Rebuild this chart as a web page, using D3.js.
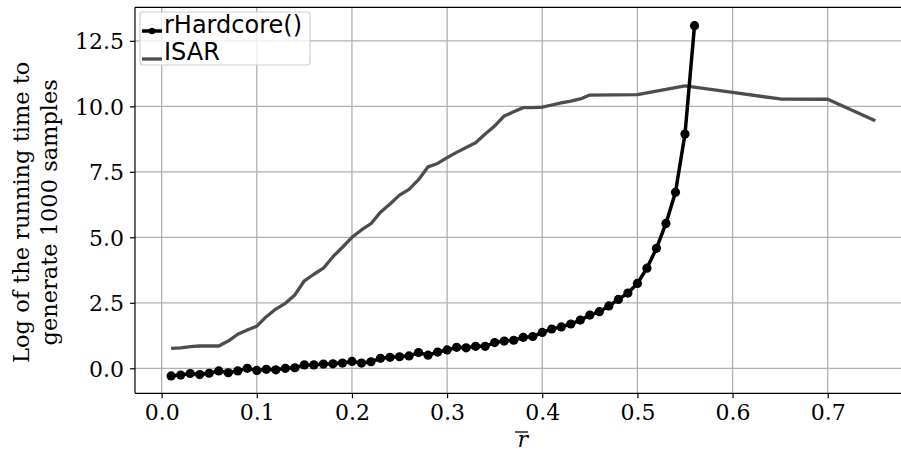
<!DOCTYPE html>
<html>
<head>
<meta charset="utf-8">
<script src="https://cdn.jsdelivr.net/npm/d3@7"></script>
<style>
  body { margin: 0; background: #fff; }
  .tick text { font-family: "DejaVu Serif", serif; font-size: 22px; fill: #000; }
</style>
</head>
<body>
<svg width="901" height="451"></svg>
<script>
// rHardcore(): r = 0.01 .. 0.56
const hardX = d3.range(1, 57).map(i => i / 100);
const hardY = [-0.29, -0.26, -0.2, -0.24, -0.19, -0.1, -0.17, -0.1, 0.0, -0.08,
  -0.04, -0.06, 0.0, 0.02, 0.13, 0.13, 0.16, 0.17, 0.2, 0.26,
  0.2, 0.25, 0.38, 0.42, 0.44, 0.47, 0.6, 0.5, 0.62, 0.7,
  0.8, 0.78, 0.84, 0.84, 0.98, 1.04, 1.07, 1.18, 1.21, 1.37,
  1.5, 1.58, 1.69, 1.84, 2.03, 2.16, 2.38, 2.63, 2.87, 3.24,
  3.82, 4.58, 5.53, 6.72, 8.94, 13.08];

// ISAR
const isarX = d3.range(1, 46).map(i => i / 100).concat([0.5, 0.55, 0.6, 0.65, 0.7, 0.75]);
const isarY = [0.76, 0.78, 0.83, 0.85, 0.85, 0.85, 1.04, 1.3, 1.46, 1.61,
  1.97, 2.26, 2.48, 2.8, 3.34, 3.59, 3.82, 4.26, 4.62, 5.0,
  5.28, 5.52, 5.96, 6.27, 6.61, 6.83, 7.2, 7.69, 7.82, 8.04,
  8.24, 8.43, 8.61, 8.94, 9.25, 9.63, 9.79, 9.95, 9.95, 9.97,
  10.05, 10.13, 10.2, 10.28, 10.43,
  10.45, 10.78, 10.53, 10.28, 10.27, 9.45];

const xTicks = [0, 0.1, 0.2, 0.3, 0.4, 0.5, 0.6, 0.7];
const yTicks = [0, 2.5, 5, 7.5, 10, 12.5];

const svg = d3.select("svg");
const pLeft = 135, pRight = 910.5, pTop = 7.3, pBottom = 393.3;

const x = d3.scaleLinear().domain([-0.028, 0.787]).range([pLeft, pRight]);
const y = d3.scaleLinear().domain([-0.955, 13.78]).range([pBottom, pTop]);

// grid
svg.append("g").selectAll("line").data(xTicks).join("line")
    .attr("x1", d => x(d)).attr("x2", d => x(d))
    .attr("y1", pTop).attr("y2", pBottom)
    .attr("stroke", "#b0b0b0").attr("stroke-width", 1.3);
svg.append("g").selectAll("line").data(yTicks).join("line")
    .attr("x1", pLeft).attr("x2", pRight)
    .attr("y1", d => y(d)).attr("y2", d => y(d))
    .attr("stroke", "#b0b0b0").attr("stroke-width", 1.3);

// axes
const gx = svg.append("g")
    .attr("transform", "translate(0," + pBottom + ")")
    .call(d3.axisBottom(x).tickValues(xTicks).tickFormat(d3.format(".1f")).tickSize(5).tickPadding(6));
const gy = svg.append("g")
    .attr("transform", "translate(" + pLeft + ",0)")
    .call(d3.axisLeft(y).tickValues(yTicks).tickFormat(d3.format(".1f")).tickSize(5).tickPadding(6));
gx.select(".domain").remove();
gy.select(".domain").remove();
gx.selectAll(".tick line").attr("stroke-width", 1.2);
gy.selectAll(".tick line").attr("stroke-width", 1.2);
gy.selectAll(".tick text").attr("dy", "0.36em");

// spines
svg.append("line").attr("x1", pLeft).attr("x2", pLeft).attr("y1", pTop).attr("y2", pBottom)
    .attr("stroke", "#000").attr("stroke-width", 1.2);
svg.append("line").attr("x1", pLeft).attr("x2", 901).attr("y1", pBottom).attr("y2", pBottom)
    .attr("stroke", "#000").attr("stroke-width", 1.2);
svg.append("line").attr("x1", pLeft).attr("x2", 901).attr("y1", pTop).attr("y2", pTop)
    .attr("stroke", "#000").attr("stroke-width", 1.2);

const line = d3.line().x(d => x(d[0])).y(d => y(d[1]));

svg.append("path")
    .datum(isarX.map((v, i) => [v, isarY[i]]))
    .attr("d", line)
    .attr("fill", "none").attr("stroke", "#4d4d4d").attr("stroke-width", 3.3)
    .attr("stroke-linejoin", "round");

const hard = hardX.map((v, i) => [v, hardY[i]]);
svg.append("path")
    .datum(hard)
    .attr("d", line)
    .attr("fill", "none").attr("stroke", "#000").attr("stroke-width", 3.5)
    .attr("stroke-linejoin", "round");
svg.append("g").selectAll("circle").data(hard).join("circle")
    .attr("cx", d => x(d[0])).attr("cy", d => y(d[1]))
    .attr("r", 4.6).attr("fill", "#000");

// legend
const lg = svg.append("g");
lg.append("rect").attr("x", 140).attr("y", 12).attr("width", 170).attr("height", 53)
    .attr("rx", 3).attr("fill", "#fff").attr("fill-opacity", 0.8)
    .attr("stroke", "#d0d0d0").attr("stroke-width", 1.2);
lg.append("line").attr("x1", 142).attr("x2", 162).attr("y1", 31).attr("y2", 31)
    .attr("stroke", "#000").attr("stroke-width", 3.5);
lg.append("circle").attr("cx", 152).attr("cy", 31).attr("r", 3.2).attr("fill", "#000");
lg.append("line").attr("x1", 142).attr("x2", 162).attr("y1", 59).attr("y2", 59)
    .attr("stroke", "#4d4d4d").attr("stroke-width", 3.3);
lg.append("text").attr("x", 164).attr("y", 33).text("rHardcore()")
    .attr("font-family", "DejaVu Sans").attr("font-size", 24);
lg.append("text").attr("x", 164).attr("y", 60).text("ISAR")
    .attr("font-family", "DejaVu Sans").attr("font-size", 24);

// axis labels
svg.append("text").attr("x", (pLeft + pRight) / 2).attr("y", 447)
    .attr("text-anchor", "middle").attr("font-family", "DejaVu Serif")
    .attr("font-style", "italic").attr("font-size", 22).text("r");
svg.append("line").attr("x1", 515).attr("x2", 528).attr("y1", 432).attr("y2", 432)
    .attr("stroke", "#000").attr("stroke-width", 1.3);

const yl = svg.append("text")
    .attr("transform", "translate(0," + ((pTop + pBottom) / 2 + 12) + ") rotate(-90)")
    .attr("text-anchor", "middle").attr("font-family", "DejaVu Serif").attr("font-size", 22.5);
yl.append("tspan").attr("x", 0).attr("y", 29).text("Log of the running time to");
yl.append("tspan").attr("x", 0).attr("y", 57).text("generate 1000 samples");
</script>
</body>
</html>
